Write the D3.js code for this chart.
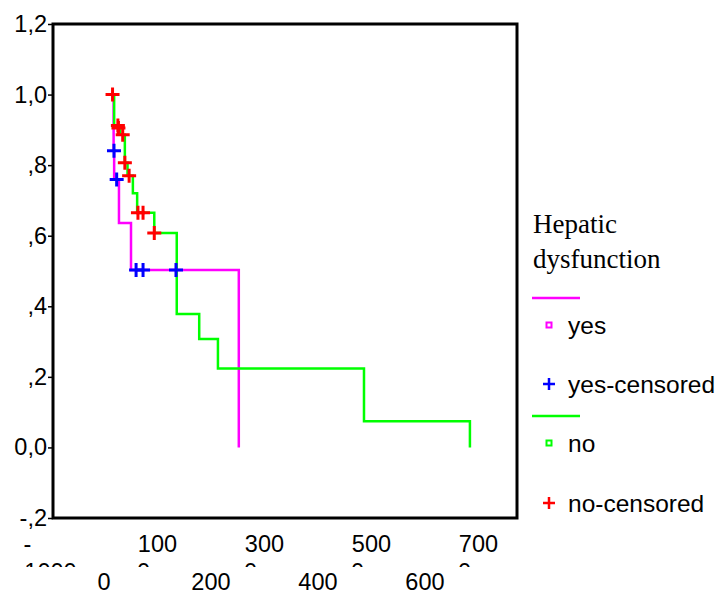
<!DOCTYPE html>
<html>
<head>
<meta charset="utf-8">
<script src="https://cdn.jsdelivr.net/npm/d3@7"></script>
<style>
  body { margin: 0; background: #fff; }
  svg { display: block; }
</style>
</head>
<body>
<svg id="drawing_region"></svg>
<script>
// survival steps (time in days, cumulative survival)
const yesTimes = [16, 18, 19, 28, 50.5, 252];
const yesSurv  = [1.0, 0.841, 0.759, 0.636, 0.503, 0.0];
const yesCensTimes = [18.7, 23.7, 60, 73, 134.6];
const yesCensSurv  = [0.841, 0.759, 0.503, 0.503, 0.503];

const noTimes = [16, 19, 30, 39, 44, 54, 62, 94, 136, 178, 213, 486, 684];
const noSurv  = [1.0, 0.912, 0.886, 0.807, 0.770, 0.720, 0.665, 0.608, 0.378, 0.307, 0.224, 0.074, 0.0];
const noCensTimes = [16, 26, 27, 35, 39, 47, 63.5, 73, 94];
const noCensSurv  = [1.0, 0.912, 0.905, 0.886, 0.807, 0.770, 0.665, 0.665, 0.608];

const yTicks  = [-0.2, 0, 0.2, 0.4, 0.6, 0.8, 1.0, 1.2];
const yLabels = ["-,2", "0,0", ",2", ",4", ",6", ",8", "1,0", "1,2"];

const xUpperTicks  = [-100, 100, 300, 500, 700];
const xUpperLabels = ["-", "100", "300", "500", "700"];
const xWrapLabels  = ["1000", "0", "0", "0", "0"];
const xLowerTicks  = [0, 200, 400, 600];
const xLowerLabels = ["0", "200", "400", "600"];

const legendTitle = ["Hepatic", "dysfunction"];
const legendNames = ["yes", "yes-censored", "no", "no-censored"];

const colors = { yes: "#ff00ff", yesCens: "#0000ff", no: "#00ff00", noCens: "#ff0000" };

const config = {
    width: 720,
    height: 600,
    box: { left: 53, top: 24, right: 517, bottom: 518 }
};

const sans = "'Liberation Sans', Arial, sans-serif";
const serif = "'Liberation Serif', 'Times New Roman', serif";

const svg = d3.select("#drawing_region")
    .attr("width", config.width)
    .attr("height", config.height);

const xscale = d3.scaleLinear()
    .domain([-95.3, 772])
    .range([config.box.left, config.box.right]);

const yscale = d3.scaleLinear()
    .domain([-0.2, 1.2])
    .range([config.box.bottom, config.box.top]);

// y axis with small ticks on the left
const yaxis = d3.axisLeft(yscale)
    .tickValues(yTicks)
    .tickSize(5)
    .tickPadding(1)
    .tickFormat((d, i) => yLabels[i]);

const yaxis_group = svg.append("g")
    .attr("transform", `translate(${config.box.left},0)`)
    .call(yaxis);
yaxis_group.select(".domain").remove();
yaxis_group.selectAll("line").attr("stroke", "#000").attr("stroke-width", 1.5);
yaxis_group.selectAll("text")
    .attr("fill", "#000")
    .style("font-family", sans)
    .style("font-size", "23.5px");

// x labels, staggered in two rows; the upper row wraps and its second line is cut off
svg.append("clipPath").attr("id", "wrapclip")
    .append("rect").attr("x", 0).attr("y", 0).attr("width", 720).attr("height", 567);

const xlab = svg.append("g")
    .style("font-family", sans)
    .style("font-size", "23.5px")
    .attr("fill", "#000");

xlab.selectAll(".up").data(xUpperTicks).enter().append("text")
    .attr("x", (d, i) => i == 0 ? xscale(d) - 23 : xscale(d))
    .attr("y", 552)
    .attr("text-anchor", "middle")
    .text((d, i) => xUpperLabels[i]);

xlab.append("g").attr("clip-path", "url(#wrapclip)")
    .selectAll("text").data(xUpperTicks).enter().append("text")
    .attr("x", (d, i) => i == 0 ? xscale(d) : xscale(d) - 14)
    .attr("y", 580)
    .attr("text-anchor", "middle")
    .text((d, i) => xWrapLabels[i]);

xlab.selectAll(".low").data(xLowerTicks).enter().append("text")
    .attr("x", d => xscale(d))
    .attr("y", 590)
    .attr("text-anchor", "middle")
    .text((d, i) => xLowerLabels[i]);

// survival curves
const line = d3.line()
    .x(d => xscale(d[0]))
    .y(d => yscale(d[1]))
    .curve(d3.curveStepAfter);

const yesData = yesTimes.map((t, i) => [t, yesSurv[i]]);
const noData = noTimes.map((t, i) => [t, noSurv[i]]);

svg.append("path")
    .attr("d", line(yesData))
    .attr("fill", "none")
    .attr("stroke", colors.yes)
    .attr("stroke-width", 2.5);

svg.append("path")
    .attr("d", line(noData))
    .attr("fill", "none")
    .attr("stroke", colors.no)
    .attr("stroke-width", 2.5);

const plus = "M-7,0H7M0,-7V7";

svg.selectAll(".cens-no").data(noCensTimes).enter().append("path")
    .attr("transform", (d, i) => `translate(${xscale(d)},${yscale(noCensSurv[i])})`)
    .attr("d", plus)
    .attr("stroke", colors.noCens)
    .attr("stroke-width", 3);

svg.selectAll(".cens-yes").data(yesCensTimes).enter().append("path")
    .attr("transform", (d, i) => `translate(${xscale(d)},${yscale(yesCensSurv[i])})`)
    .attr("d", plus)
    .attr("stroke", colors.yesCens)
    .attr("stroke-width", 3);

// frame
svg.append("rect")
    .attr("x", config.box.left)
    .attr("y", config.box.top)
    .attr("width", config.box.right - config.box.left)
    .attr("height", config.box.bottom - config.box.top)
    .attr("fill", "none")
    .attr("stroke", "#000")
    .attr("stroke-width", 3);

// legend
const legend = svg.append("g");

legend.selectAll(".title").data(legendTitle).enter().append("text")
    .attr("x", 533)
    .attr("y", (d, i) => 233 + i * 35)
    .style("font-family", serif)
    .style("font-size", "27px")
    .attr("fill", "#000")
    .text(d => d);

const rowY = [334, 393, 452, 512];
const rowColor = [colors.yes, colors.yesCens, colors.no, colors.noCens];

legendNames.forEach((name, i) => {
    const cy = rowY[i] - 9;
    if (i % 2 == 0) {
        legend.append("line")
            .attr("x1", 532).attr("x2", 580)
            .attr("y1", cy - 27).attr("y2", cy - 27)
            .attr("stroke", rowColor[i])
            .attr("stroke-width", 2.5);
        legend.append("rect")
            .attr("x", 546.5).attr("y", cy - 2.5)
            .attr("width", 5).attr("height", 5)
            .attr("fill", "#fff")
            .attr("stroke", rowColor[i])
            .attr("stroke-width", 2);
    } else {
        legend.append("path")
            .attr("transform", `translate(549,${cy})`)
            .attr("d", "M-6,0H6M0,-6V6")
            .attr("stroke", rowColor[i])
            .attr("stroke-width", 2.5);
    }
    legend.append("text")
        .attr("x", 568)
        .attr("y", rowY[i])
        .style("font-family", sans)
        .style("font-size", "24.5px")
        .attr("fill", "#000")
        .text(name);
});
</script>
</body>
</html>
